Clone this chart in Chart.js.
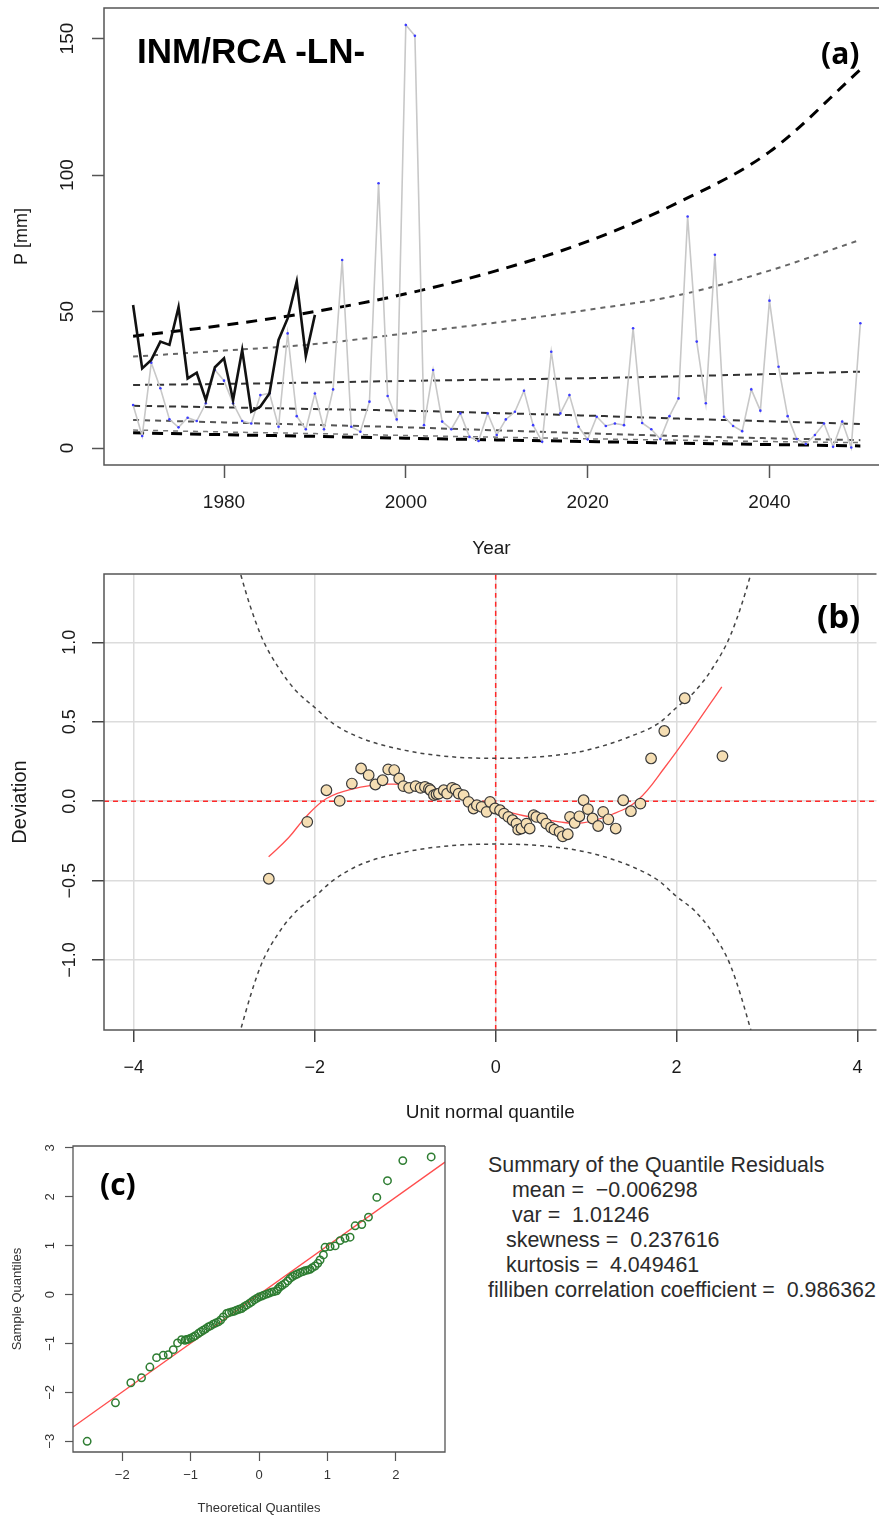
<!DOCTYPE html>
<html>
<head>
<meta charset="utf-8">
<script src="https://cdn.jsdelivr.net/npm/chart.js@4.4.1/dist/chart.umd.min.js"></script>
<style>
  html, body { margin: 0; padding: 0; background: #fff; }
  body { width: 883px; height: 1517px; position: relative; overflow: hidden; font-family: 'Liberation Sans', Arial, sans-serif; }
  canvas { position: absolute; left: 0; }
  #cA { top: 0; }
  #cB { top: 560px; }
  #cC { top: 1125px; }
  .lbl { position: absolute; font-weight: bold; white-space: nowrap; color: #000; }
  .tag { font-family: 'Open Sans', sans-serif; }
  #summary { position: absolute; left: 488px; top: 1153px; font-size: 21.4px; line-height: 25px; color: #2b2b2b; white-space: pre; }
</style>
</head>
<body>
<canvas id="cA" width="883" height="560"></canvas>
<canvas id="cB" width="883" height="565"></canvas>
<canvas id="cC" width="470" height="392"></canvas>

<div class="lbl" style="left:137px;top:33px;font-size:35px;line-height:35px">INM/RCA -LN-</div>
<div class="lbl tag" style="left:821px;top:38px;font-size:30px;line-height:30px">(a)</div>
<div class="lbl tag" style="left:817px;top:599px;font-size:33px;line-height:33px">(b)</div>
<div class="lbl tag" style="left:100px;top:1169px;font-size:30px;line-height:30px">(c)</div>

<div id="summary"><div>Summary of the Quantile Residuals</div><div style="padding-left:24px">mean =  −0.006298</div><div style="padding-left:24px">var =  1.01246</div><div style="padding-left:18px">skewness =  0.237616</div><div style="padding-left:18px">kurtosis =  4.049461</div><div>filliben correlation coefficient =  0.986362</div></div>

<script>
/* ── panel (a): precipitation series ── */
const startYear = 1970;
const obsValues = [52.4, 29.2, 32.3, 39.0, 37.8, 51.6, 25.5, 27.6, 17.6, 29.6,
  32.9, 17.6, 35.9, 13.3, 15.2, 20.0, 39.6, 47.5, 61.0, 33.7, 48.8];
const simValues = [15.8, 4.4, 31.3, 21.9, 10.5, 7.6, 11.1, 9.9, 16.4, 28.6,
  24.7, 16.4, 9.9, 9.0, 19.4, 20.1, 7.8, 42.0, 11.7, 6.9,
  20.0, 6.9, 21.5, 68.9, 7.8, 6.0, 17.0, 97.0, 19.1, 10.5,
  155.0, 151.0, 8.4, 28.6, 9.7, 6.9, 12.7, 4.1, 2.6, 12.7,
  4.8, 10.5, 13.3, 21.0, 8.4, 2.3, 35.3, 12.7, 19.4, 7.8,
  3.2, 11.5, 8.1, 9.0, 8.4, 43.9, 9.2, 6.9, 3.3, 11.7,
  18.2, 84.8, 39.0, 16.4, 70.8, 11.5, 8.1, 6.2, 21.5, 13.7,
  54.0, 29.8, 11.7, 3.3, 1.5, 4.8, 9.0, 0.5, 9.7, 0.2, 45.7];

// quantile curves, top to bottom
const curveYears = [1970, 1980, 1990, 2000, 2010, 2020, 2030, 2040, 2050];
const q1 = [41.0, 45.0, 50.0, 56.5, 65.0, 75.7, 90.0, 108.5, 138.6];
const q2 = [33.5, 35.7, 38.1, 42.0, 46.0, 50.6, 56.0, 65.0, 76.3];
const q3 = [23.1, 23.5, 24.0, 24.6, 25.1, 25.6, 26.3, 27.1, 28.0];
const q4 = [15.5, 14.9, 14.3, 13.7, 12.8, 11.9, 10.8, 9.8, 8.8];
const q5 = [10.3, 9.4, 8.5, 7.6, 6.5, 5.4, 4.4, 3.6, 2.9];
const q6 = [6.6, 5.9, 5.3, 4.6, 4.0, 3.4, 2.9, 2.4, 2.0];
const q7 = [5.6, 4.9, 4.3, 3.6, 3.0, 2.4, 1.8, 1.3, 0.8];

/* ── panel (b): worm plot ── */
const wormX = [-2.508, -2.083, -1.871, -1.725, -1.59, -1.488, -1.404, -1.33, -1.25, -1.188,
  -1.122, -1.067, -1.02, -0.957, -0.885, -0.83, -0.782, -0.738, -0.72, -0.683,
  -0.654, -0.628, -0.574, -0.537, -0.481, -0.445, -0.409, -0.354, -0.3, -0.245,
  -0.208, -0.155, -0.1, -0.062, -0.007, 0.048, 0.092, 0.14, 0.187, 0.23,
  0.249, 0.285, 0.34, 0.376, 0.42, 0.45, 0.515, 0.559, 0.613, 0.65,
  0.706, 0.742, 0.797, 0.822, 0.873, 0.925, 0.972, 1.02, 1.071, 1.133,
  1.188, 1.246, 1.327, 1.41, 1.495, 1.60, 1.718, 1.864, 2.09, 2.507];
const wormY = [-0.488, -0.13, 0.069, 0.002, 0.111, 0.206, 0.164, 0.105, 0.132, 0.2,
  0.196, 0.143, 0.095, 0.084, 0.095, 0.084, 0.09, 0.079, 0.069, 0.038,
  0.044, 0.048, 0.069, 0.048, 0.084, 0.074, 0.048, 0.038, -0.004, -0.046,
  -0.025, -0.036, -0.067, -0.004, -0.046, -0.057, -0.078, -0.099, -0.12, -0.141,
  -0.179, -0.172, -0.141, -0.172, -0.088, -0.099, -0.109, -0.141, -0.166, -0.179,
  -0.193, -0.221, -0.208, -0.099, -0.137, -0.095, 0.006, -0.05, -0.109, -0.156,
  -0.067, -0.114, -0.172, 0.006, -0.063, -0.015, 0.269, 0.442, 0.648, 0.284];
const fitX = [-2.51, -2.29, -2.1, -1.87, -1.6, -1.19, -0.76, -0.4, -0.025, 0.3, 0.705, 0.96, 1.29, 1.57, 1.875, 2.17, 2.5];
const fitY = [-0.35, -0.23, -0.1, 0.017, 0.075, 0.107, 0.09, 0.035, -0.036, -0.09, -0.13, -0.137, -0.082, 0.006, 0.217, 0.448, 0.72];
const bandX = [-2.9, -2.82, -2.6, -2.4, -2.2, -2.0, -1.8, -1.5, -1.0, -0.5, 0, 0.5, 1.0, 1.5, 1.8, 2.0, 2.2, 2.4, 2.6, 2.82, 2.9];
const bandUp = [1.62, 1.43, 1.05, 0.84, 0.69, 0.59, 0.49, 0.40, 0.32, 0.28, 0.27, 0.28, 0.32, 0.41, 0.49, 0.59, 0.69, 0.84, 1.05, 1.43, 1.62];
const bandLow = [-1.62, -1.44, -1.04, -0.83, -0.69, -0.6, -0.5, -0.4, -0.32, -0.28, -0.27, -0.28, -0.32, -0.41, -0.5, -0.6, -0.69, -0.83, -1.04, -1.44, -1.62];

/* ── panel (c): normal QQ ── */
const qqTheo = [-2.513, -2.099, -1.874, -1.718, -1.596, -1.498, -1.401, -1.327, -1.254, -1.191,
  -1.132, -1.083, -1.06, -1.035, -1.0, -0.961, -0.93, -0.888, -0.85, -0.815, -0.78, -0.742, -0.71,
  -0.669, -0.63, -0.595, -0.56, -0.522, -0.473, -0.44, -0.4, -0.36, -0.327, -0.29, -0.254,
  -0.22, -0.181, -0.14, -0.107, -0.07, -0.034, 0.0, 0.039, 0.07, 0.112, 0.15, 0.185, 0.22,
  0.259, 0.28, 0.307, 0.34, 0.381, 0.42, 0.454, 0.49, 0.527, 0.56, 0.6, 0.64, 0.673, 0.71,
  0.747, 0.78, 0.82, 0.86, 0.893, 0.942, 0.966, 1.04, 1.113, 1.186, 1.259, 1.332,
  1.406, 1.503, 1.601, 1.723, 1.879, 2.103, 2.518];
const qqSample = [-3.001, -2.214, -1.803, -1.701, -1.482, -1.29, -1.242, -1.229, -1.126, -0.989,
  -0.921, -0.934, -0.92, -0.914, -0.89, -0.866, -0.84, -0.797, -0.76, -0.729, -0.7, -0.661, -0.64,
  -0.606, -0.58, -0.558, -0.52, -0.455, -0.387, -0.37, -0.353, -0.34, -0.318, -0.3, -0.284,
  -0.25, -0.216, -0.18, -0.147, -0.11, -0.079, -0.05, -0.031, -0.01, 0.01, 0.03, 0.051, 0.06,
  0.079, 0.12, 0.161, 0.19, 0.229, 0.28, 0.332, 0.37, 0.4, 0.42, 0.448, 0.47, 0.489, 0.5,
  0.517, 0.55, 0.585, 0.64, 0.708, 0.811, 0.968, 0.982, 0.996, 1.105, 1.153, 1.174,
  1.407, 1.434, 1.585, 1.988, 2.33, 2.741, 2.816];
const qqLineX = [-2.72, 2.72];
const qqLineY = [-2.71, 2.71];

/* ── helpers ── */
const pts = (xs, ys) => xs.map((x, i) => ({ x, y: ys[i] }));
const minus = v => String(v).replace('-', '\u2212');
const FONT = "'Liberation Sans', Arial, sans-serif";

function curve(xs, ys, color, width, dash) {
  return {
    data: pts(xs, ys), showLine: true, borderColor: color, borderWidth: width,
    borderDash: dash || [], pointRadius: 0, cubicInterpolationMode: 'monotone', fill: false
  };
}

// R-style box round the plot region
const framePlugin = {
  id: 'frame',
  afterDatasetsDraw(chart, args, opts) {
    const { ctx, chartArea: a } = chart;
    ctx.save();
    ctx.strokeStyle = opts.color || '#555';
    ctx.lineWidth = opts.width || 1.5;
    ctx.beginPath();
    ctx.moveTo(a.right, a.top);
    ctx.lineTo(a.left, a.top);
    ctx.lineTo(a.left, a.bottom);
    ctx.lineTo(a.right, a.bottom);
    if (opts.closed) ctx.lineTo(a.right, a.top);
    ctx.stroke();
    ctx.restore();
  }
};

// y tick labels turned parallel to the axis, as R draws them
const rotYPlugin = {
  id: 'rotY',
  afterDraw(chart, args, opts) {
    const s = chart.scales.y;
    const { ctx } = chart;
    ctx.save();
    ctx.fillStyle = opts.color || '#1a1a1a';
    ctx.font = opts.size + 'px ' + FONT;
    ctx.textAlign = 'center';
    ctx.textBaseline = 'middle';
    s.ticks.forEach(t => {
      ctx.save();
      ctx.translate(opts.x, s.getPixelForValue(t.value));
      ctx.rotate(-Math.PI / 2);
      ctx.fillText(t.label, 0, 0);
      ctx.restore();
    });
    ctx.restore();
  }
};

Chart.defaults.font.family = FONT;
Chart.defaults.color = '#1a1a1a';
Chart.defaults.animation = false;
Chart.defaults.responsive = false;
Chart.defaults.devicePixelRatio = 1;
Chart.defaults.plugins.legend.display = false;
Chart.defaults.plugins.tooltip.enabled = false;

/* ── (a) ── */
new Chart(document.getElementById('cA'), {
  type: 'scatter',
  data: {
    datasets: [
      { data: obsValues.map((v, i) => ({ x: startYear + i, y: v })), showLine: true,
        borderColor: '#111', borderWidth: 2.6, pointRadius: 0 },
      { data: simValues.map((v, i) => ({ x: startYear + i, y: v })), showLine: true,
        borderColor: '#c8c8c8', borderWidth: 1.6, pointRadius: 1.3,
        pointBackgroundColor: '#3b3bff', pointBorderWidth: 0 },
      curve(curveYears, q1, '#000', 3, [11, 8]),
      curve(curveYears, q2, '#666', 2, [5, 5]),
      curve(curveYears, q3, '#333', 2, [7, 5]),
      curve(curveYears, q4, '#333', 2, [7, 5]),
      curve(curveYears, q5, '#555', 2, [6, 5]),
      curve(curveYears, q6, '#777', 1.5, [5, 5]),
      curve(curveYears, q7, '#000', 3, [11, 8])
    ]
  },
  options: {
    layout: { padding: { top: 8, right: 0, left: 0, bottom: 0 } },
    scales: {
      x: {
        type: 'linear', min: 1966.8, max: 2052.05,
        afterFit: s => { s.height = 95; },
        ticks: { stepSize: 20, includeBounds: false, font: { size: 19 }, padding: 13, maxRotation: 0, callback: v => String(v) },
        grid: { drawOnChartArea: false, tickLength: 13, tickColor: '#555', tickWidth: 1.5 },
        border: { display: false },
        title: { display: true, text: 'Year', font: { size: 19 }, padding: { top: 0, bottom: 0 } }
      },
      y: {
        min: -6.2, max: 161.2,
        afterFit: s => { s.width = 104; },
        ticks: { display: false, stepSize: 50, includeBounds: false, callback: v => String(v) },
        grid: { drawOnChartArea: false, tickLength: 12, tickColor: '#555', tickWidth: 1.5 },
        border: { display: false },
        title: { display: true, text: 'P [mm]', font: { size: 18 }, padding: { top: 11, bottom: 0 } }
      }
    },
    plugins: { frame: { closed: false }, rotY: { x: 68, size: 19 } }
  },
  plugins: [framePlugin, rotYPlugin]
});

/* ── (b) ── */
const fitLine = curve(fitX, fitY, '#ff5050', 1.3);
fitLine.cubicInterpolationMode = 'default';
fitLine.tension = 0.4;

new Chart(document.getElementById('cB'), {
  type: 'scatter',
  data: {
    datasets: [
      { data: pts(wormX, wormY), pointRadius: 5.3, pointBackgroundColor: '#f5deb3',
        pointBorderColor: '#3a3a3a', pointBorderWidth: 1.2 },
      fitLine,
      curve(bandX, bandUp, '#444', 1.5, [4, 4]),
      curve(bandX, bandLow, '#444', 1.5, [4, 4]),
      curve([-4.33, 4.21], [0, 0], '#ff2a2a', 1.5, [5, 4]),
      curve([0, 0], [-1.44, 1.43], '#ff2a2a', 1.5, [5, 4])
    ]
  },
  options: {
    layout: { padding: { top: 14, right: 0, left: 0, bottom: 0 } },
    scales: {
      x: {
        type: 'linear', min: -4.33, max: 4.21,
        afterFit: s => { s.height = 95; },
        ticks: { stepSize: 2, includeBounds: false, font: { size: 18 }, padding: 15, maxRotation: 0, callback: v => minus(v) },
        grid: { color: '#dcdcdc', lineWidth: 1.5, tickLength: 12, tickColor: '#444', tickWidth: 1.5 },
        border: { display: false },
        title: { display: true, text: 'Unit normal quantile', font: { size: 19 }, padding: { top: 0, bottom: 1 } }
      },
      y: {
        min: -1.44, max: 1.43,
        afterFit: s => { s.width = 104; },
        ticks: { display: false, stepSize: 0.5, includeBounds: false, callback: v => minus(v.toFixed(1)) },
        grid: { color: '#dcdcdc', lineWidth: 1.5, tickLength: 12, tickColor: '#444', tickWidth: 1.5 },
        border: { display: false },
        title: { display: true, text: 'Deviation', font: { size: 20 }, padding: { top: 8, bottom: 0 } }
      }
    },
    plugins: { frame: { closed: false }, rotY: { x: 70, size: 18 } }
  },
  plugins: [framePlugin, rotYPlugin]
});

/* ── (c) ── */
new Chart(document.getElementById('cC'), {
  type: 'scatter',
  data: {
    datasets: [
      { data: pts(qqTheo, qqSample), pointRadius: 3.7, pointBackgroundColor: 'rgba(0,0,0,0)',
        pointBorderColor: '#2e7d32', pointBorderWidth: 1.5 },
      curve(qqLineX, qqLineY, '#ff4d4d', 1.3)
    ]
  },
  options: {
    layout: { padding: { top: 21, right: 25, left: 0, bottom: 0 } },
    scales: {
      x: {
        type: 'linear', min: -2.72, max: 2.72,
        afterFit: s => { s.height = 65; },
        ticks: { stepSize: 1, includeBounds: false, font: { size: 13 }, color: '#333', padding: 7, maxRotation: 0, callback: v => minus(v) },
        grid: { drawOnChartArea: false, tickLength: 9, tickColor: '#555', tickWidth: 1.2 },
        border: { display: false },
        title: { display: true, text: 'Theoretical Quantiles', font: { size: 13 }, color: '#333', padding: { top: 0, bottom: 1 } }
      },
      y: {
        min: -3.22, max: 3.04,
        afterFit: s => { s.width = 73; },
        ticks: { display: false, stepSize: 1, includeBounds: false, callback: v => minus(v) },
        grid: { drawOnChartArea: false, tickLength: 8, tickColor: '#555', tickWidth: 1.2 },
        border: { display: false },
        title: { display: true, text: 'Sample Quantiles', font: { size: 13 }, color: '#333', padding: { top: 10, bottom: 0 } }
      }
    },
    plugins: { frame: { closed: true, width: 1.3 }, rotY: { x: 50, size: 13, color: '#333' } }
  },
  plugins: [framePlugin, rotYPlugin]
});
</script>
</body>
</html>
